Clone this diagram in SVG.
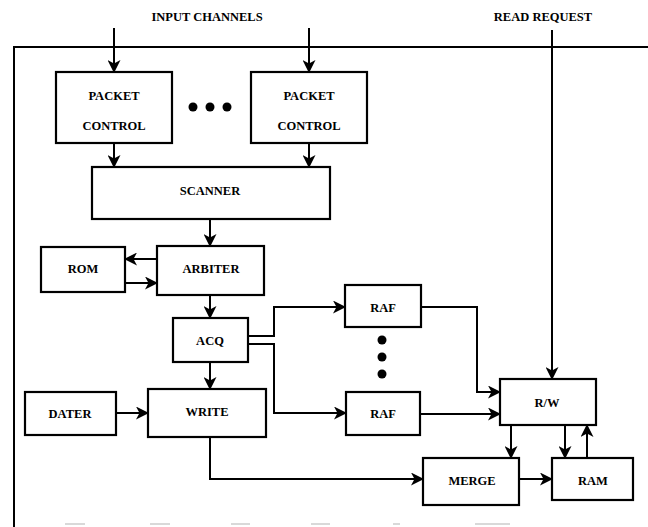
<svg xmlns="http://www.w3.org/2000/svg" width="648" height="527" viewBox="0 0 648 527">
<defs>
<marker id="ah" markerUnits="userSpaceOnUse" markerWidth="13" markerHeight="13" viewBox="0 0 13 13" refX="12" refY="6.5" orient="auto">
<path d="M0,0 L13,6.5 L0,13 L3.5,6.5 z" fill="#000"/>
</marker>
<style>
.box{fill:#fff;stroke:#000;stroke-width:2.2}
.t{font-family:"Liberation Serif","Times New Roman",serif;font-size:12.5px;font-weight:bold;text-anchor:middle;fill:#000}
.c{fill:none;stroke:#000;stroke-width:2}
.c path{marker-end:url(#ah)}
.scan{stroke:#ccc;stroke-width:1.5}
</style>
</defs>
<rect width="648" height="527" fill="#fff"/>
<g id="frame">
<path d="M14,527 L14,47 L648,47" fill="none" stroke="#000" stroke-width="2"/>
<g class="scan">
<line x1="65" y1="524" x2="85" y2="524"/>
<line x1="150" y1="524" x2="170" y2="524"/>
<line x1="231" y1="524" x2="250" y2="524"/>
<line x1="311" y1="524" x2="330" y2="524"/>
<line x1="393" y1="524" x2="400" y2="524"/>
<line x1="475" y1="524" x2="510" y2="524"/>
</g>
</g>
<g id="labels">
<text class="t" x="207" y="21">INPUT CHANNELS</text>
<text class="t" x="543" y="21">READ REQUEST</text>
</g>
<g id="connectors" class="c">
<path d="M114,28 L114,72"/>
<path d="M309,28 L309,72"/>
<path d="M114,143 L114,167"/>
<path d="M309,143 L309,167"/>
<path d="M552,30 L552,379"/>
<path d="M210,219 L210,246"/>
<path d="M157,259 L125,259"/>
<path d="M125,283 L157,283"/>
<path d="M210,295 L210,318"/>
<path d="M248,336 L274,336 L274,307 L345,307"/>
<path d="M248,344 L274,344 L274,413 L346,413"/>
<path d="M210,362 L210,389"/>
<path d="M116,413 L148,413"/>
<path d="M421,307 L477,307 L477,392 L500,392"/>
<path d="M420,414 L500,414"/>
<path d="M210,437 L210,479 L423,479"/>
<path d="M511,425 L511,458"/>
<path d="M565,425 L565,458"/>
<path d="M587,458 L587,425"/>
<path d="M519,479 L552,479"/>
</g>
<g id="pc1"><rect class="box" x="56" y="72" width="116" height="71"/><text class="t" x="114" y="100">PACKET</text><text class="t" x="114" y="130">CONTROL</text></g>
<g id="pc2"><rect class="box" x="251" y="72" width="116" height="71"/><text class="t" x="309" y="100">PACKET</text><text class="t" x="309" y="130">CONTROL</text></g>
<g id="dots-h"><circle cx="193" cy="107" r="4.5"/><circle cx="210" cy="107" r="4.5"/><circle cx="227" cy="107" r="4.5"/></g>
<g id="scanner"><rect class="box" x="92" y="167" width="238" height="52"/><text class="t" x="210" y="195">SCANNER</text></g>
<g id="rom"><rect class="box" x="41" y="247" width="84" height="45"/><text class="t" x="83" y="273">ROM</text></g>
<g id="arbiter"><rect class="box" x="157" y="246" width="107" height="49"/><text class="t" x="211" y="273">ARBITER</text></g>
<g id="acq"><rect class="box" x="173" y="318" width="75" height="44"/><text class="t" x="210" y="345">ACQ</text></g>
<g id="raf1"><rect class="box" x="345" y="285" width="76" height="42"/><text class="t" x="383" y="312">RAF</text></g>
<g id="dots-v"><circle cx="382" cy="340" r="4.5"/><circle cx="382" cy="357" r="4.5"/><circle cx="382" cy="374" r="4.5"/></g>
<g id="dater"><rect class="box" x="25" y="392" width="91" height="43"/><text class="t" x="70" y="418">DATER</text></g>
<g id="write"><rect class="box" x="148" y="389" width="118" height="48"/><text class="t" x="207" y="416">WRITE</text></g>
<g id="raf2"><rect class="box" x="346" y="392" width="74" height="43"/><text class="t" x="383" y="418">RAF</text></g>
<g id="rw"><rect class="box" x="500" y="379" width="96" height="46"/><text class="t" x="547" y="407">R/W</text></g>
<g id="merge"><rect class="box" x="423" y="458" width="96" height="47"/><text class="t" x="472" y="485">MERGE</text></g>
<g id="ram"><rect class="box" x="552" y="458" width="81" height="42"/><text class="t" x="593" y="485">RAM</text></g>
</svg>
